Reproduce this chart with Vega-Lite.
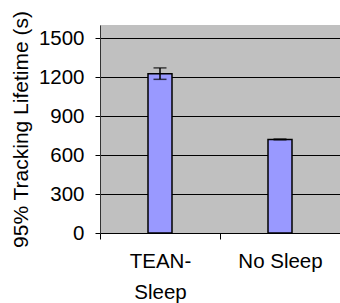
{
  "$schema": "https://vega.github.io/schema/vega-lite/v6.json",
  "autosize": "none",
  "width": 240,
  "height": 208,
  "padding": {"left": 100, "top": 25, "right": 0, "bottom": 70},
  "background": "white",
  "config": {
    "view": {"fill": "#C0C0C0", "stroke": null},
    "font": "Liberation Sans"
  },
  "data": {
    "values": [
      {"cat": "TEAN-Sleep", "value": 1225, "lo": 1182, "hi": 1270},
      {"cat": "No Sleep", "value": 720, "lo": 717, "hi": 723}
    ]
  },
  "encoding": {
    "x": {
      "field": "cat",
      "type": "nominal",
      "sort": null,
      "title": null,
      "scale": {"paddingInner": 0, "paddingOuter": 0},
      "axis": {
        "labelAngle": 0,
        "labelFont": "Liberation Sans",
        "labelFontSize": 20.5,
        "labelColor": "black",
        "labelBaseline": "top",
        "labelPadding": 12,
        "labelLineHeight": 31,
        "labelExpr": "datum.value == 'TEAN-Sleep' ? ['TEAN-', 'Sleep'] : datum.label",
        "tickBand": "extent",
        "tickSize": 6,
        "tickColor": "black",
        "domainColor": "black",
        "domainWidth": 1,
        "grid": false
      }
    }
  },
  "layer": [
    {
      "mark": {"type": "bar", "size": 24, "fill": "#9999FF", "stroke": "black", "strokeWidth": 1.5},
      "encoding": {
        "y": {
          "field": "value",
          "type": "quantitative",
          "scale": {"domain": [0, 1500]},
          "title": "95% Tracking Lifetime (s)",
          "axis": {
            "values": [0, 300, 600, 900, 1200, 1500],
            "format": "d",
            "labelFont": "Liberation Sans",
            "labelFontSize": 20.5,
            "labelColor": "black",
            "labelPadding": 11,
            "tickSize": 5,
            "tickColor": "black",
            "domainColor": "#333333",
            "gridColor": "black",
            "gridWidth": 1,
            "gridOpacity": 1,
            "titleFont": "Liberation Sans",
            "titleFontSize": 21,
            "titleFontWeight": "normal",
            "titleColor": "black",
            "titlePadding": 7
          }
        }
      }
    },
    {
      "mark": {"type": "rule", "stroke": "black", "strokeWidth": 1.5},
      "encoding": {
        "y": {"field": "lo", "type": "quantitative"},
        "y2": {"field": "hi"}
      }
    },
    {
      "mark": {"type": "tick", "orient": "horizontal", "size": 13, "thickness": 1.5, "color": "black"},
      "encoding": {
        "y": {"field": "lo", "type": "quantitative"}
      }
    },
    {
      "mark": {"type": "tick", "orient": "horizontal", "size": 13, "thickness": 1.5, "color": "black"},
      "encoding": {
        "y": {"field": "hi", "type": "quantitative"}
      }
    }
  ]
}
